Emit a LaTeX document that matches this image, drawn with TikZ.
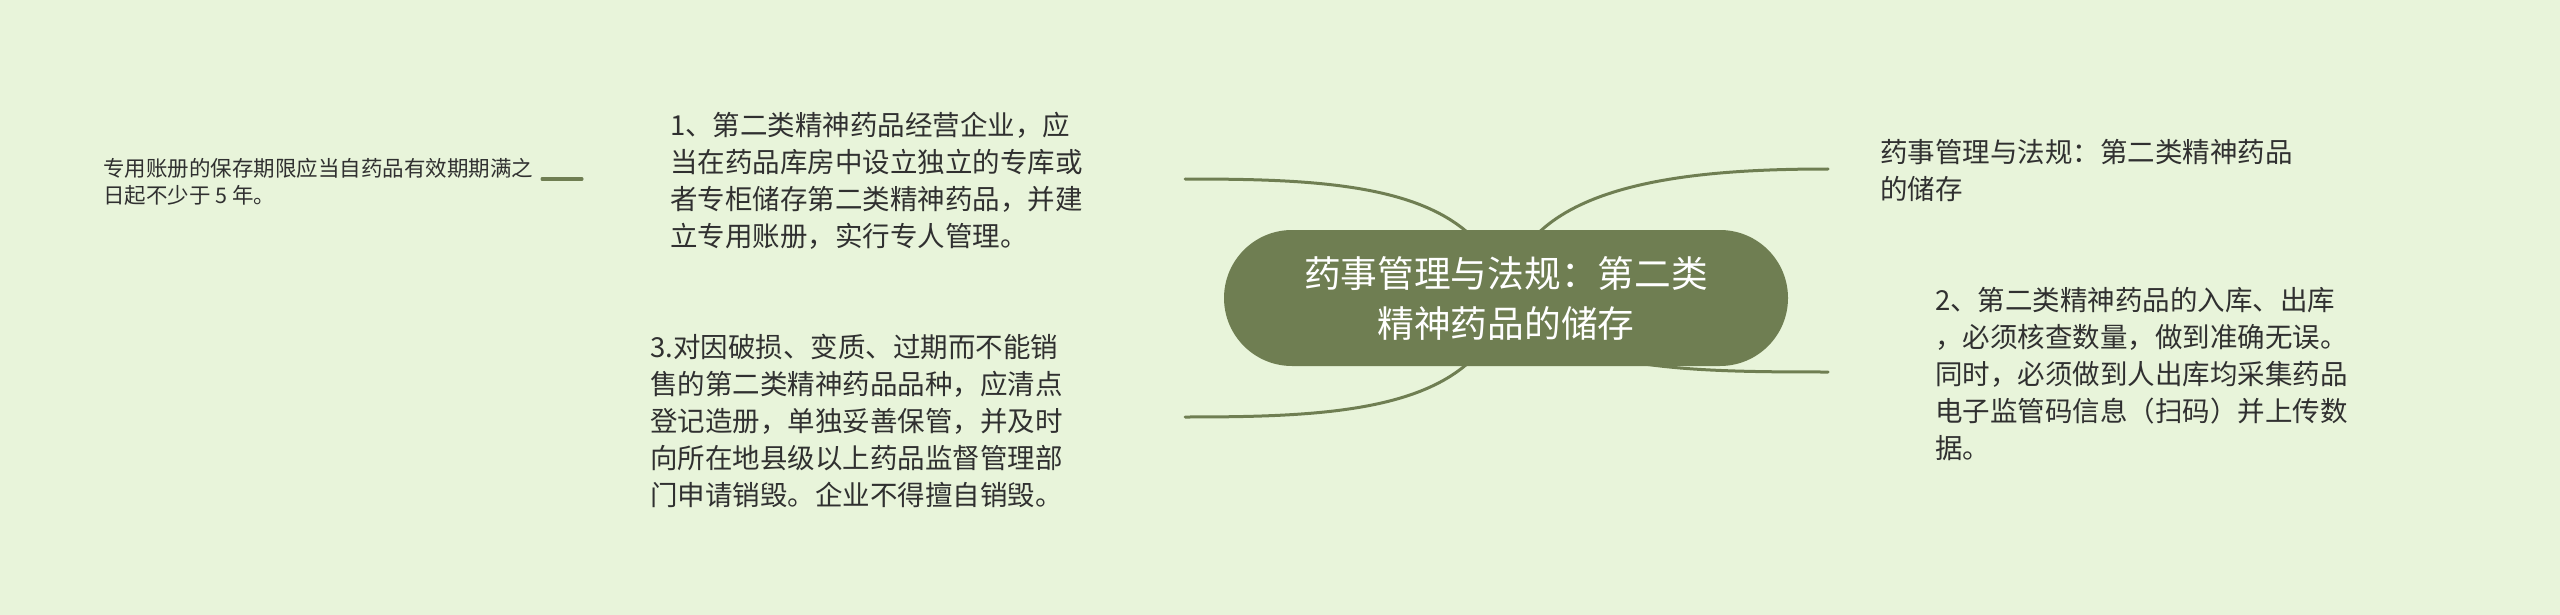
\documentclass[tikz,border=0pt]{standalone}
\usepackage{fontspec}
\setmainfont{Noto Sans CJK SC}
\definecolor{bgC}{RGB}{232,244,218}
\definecolor{boxC}{RGB}{111,126,82}
\definecolor{lineC}{RGB}{111,126,82}
\definecolor{txtC}{RGB}{48,48,48}
\tikzset{
  conn/.style={draw=lineC, line width=3pt, line cap=round},
  txt/.style={anchor=north west, inner sep=0pt, align=left, text=txtC, font=\fontsize{27.5}{37}\selectfont},
  smalltxt/.style={txt, font=\fontsize{21.5}{27}\selectfont},
  rootbox/.style={fill=boxC, rounded corners=68pt, minimum width=564pt, minimum height=136pt, inner sep=0pt, align=center, text=white, font=\fontsize{36.7}{50}\selectfont}
}
\begin{document}
\begin{tikzpicture}[x=1pt,y=-1pt]
\useasboundingbox (0,0) rectangle (2560,615);
\fill[bgC] (0,0) rectangle (2560,615);
% connection points
\coordinate (c1) at (1185,179);
\coordinate (c3) at (1185,417);
\coordinate (cr) at (1828,169);
\coordinate (c2) at (1828,372);
\coordinate (s1a) at (582,179);
\coordinate (s1b) at (542,179);
% text nodes
\node[smalltxt] (small) at (103,157.3) {\strut 专用账册的保存期限应当自药品有效期期满之\\日起不少于 5 年。};
\node[txt] (n1) at (670,109.5) {\strut 1、第二类精神药品经营企业，应\\当在药品库房中设立独立的专库或\\者专柜储存第二类精神药品，并建\\立专用账册，实行专人管理。};
\node[txt] (n3) at (650,331.2) {\strut 3.对因破损、变质、过期而不能销\\售的第二类精神药品品种，应清点\\登记造册，单独妥善保管，并及时\\向所在地县级以上药品监督管理部\\门申请销毁。企业不得擅自销毁。};
\node[txt] (rt) at (1880,136.5) {\strut 药事管理与法规：第二类精神药品\\的储存};
\node[txt] (n2) at (1935,284.5) {\strut 2、第二类精神药品的入库、出库\\，必须核查数量，做到准确无误。\\同时，必须做到人出库均采集药品\\电子监管码信息（扫码）并上传数\\据。};
% root position helper
\coordinate (rc) at (1506,298);
% connectors (drawn under the root box)
\draw[conn] (rc) .. controls (1480,185) and (1340,179) .. (c1);
\draw[conn] (rc) .. controls (1480,411) and (1340,417) .. (c3);
\draw[conn] (rc) .. controls (1520,185) and (1680,169) .. (cr);
\draw[conn] (rc) .. controls (1560,370) and (1680,372) .. (c2);
\draw[conn] (s1a) -- (s1b);
% root
\node[rootbox] (root) at (rc) {\rule{0pt}{43pt}药事管理与法规：第二类\\精神药品的储存\strut};
\end{tikzpicture}
\end{document}
